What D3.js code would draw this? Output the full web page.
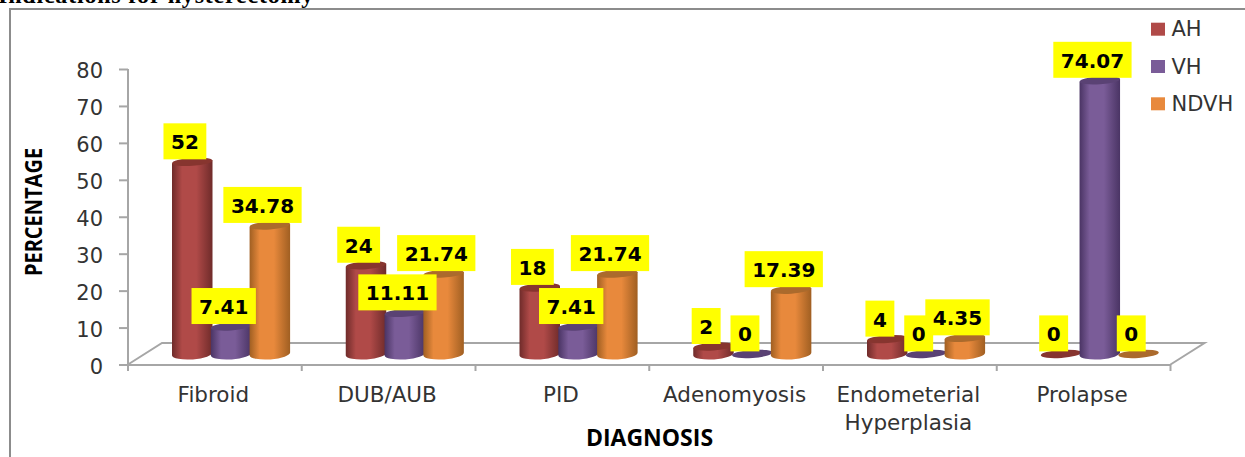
<!DOCTYPE html>
<html>
<head>
<meta charset="utf-8">
<script src="https://cdn.jsdelivr.net/npm/d3@7"></script>
<style>
html, body { margin: 0; padding: 0; background: #fff; overflow: hidden; }
</style>
</head>
<body>
<div id="chart"></div>
<script>
var categories = ["Fibroid", "DUB/AUB", "PID", "Adenomyosis", "Endometerial Hyperplasia", "Prolapse"];
var seriesNames = ["AH", "VH", "NDVH"];
var ahValues = [52, 24, 18, 2, 4, 0];
var vhValues = [7.41, 11.11, 7.41, 0, 0, 74.07];
var ndvhValues = [34.78, 21.74, 21.74, 17.39, 4.35, 0];
var yTicks = [0, 10, 20, 30, 40, 50, 60, 70, 80];

var cfg = {
    w: 1245,
    h: 457,
    left: 128,
    right: 1170.5,
    y0: 364.5,
    y80: 69,
    depthX: 34,
    depthY: 21.5,
    baseY: 355.4,
    barStep: 38.8,
    barW: 40.5,
    ry: 4,
    labelDx: -6.5,
    labelDy: -22,
    font: "'DejaVu Sans', sans-serif",
    titleFont: "'Open Sans', sans-serif"
};

var colors = [
    {main: "#b04a48", dark: "#6f2b2a", top: "#87352f"},
    {main: "#7a5c98", dark: "#4a3464", top: "#5a4274"},
    {main: "#e8893c", dark: "#a05f22", top: "#ab6a2c"}
];

var svg = d3.select("#chart").append("svg")
    .attr("width", cfg.w)
    .attr("height", cfg.h)
    .style("display", "block");

var defs = svg.append("defs");
colors.forEach(function(c, i){
    var grad = defs.append("linearGradient").attr("id", "cyl" + i);
    grad.append("stop").attr("offset", "0%").attr("stop-color", c.dark);
    grad.append("stop").attr("offset", "25%").attr("stop-color", c.main);
    grad.append("stop").attr("offset", "60%").attr("stop-color", c.main);
    grad.append("stop").attr("offset", "100%").attr("stop-color", c.dark);
});

// page text cut off by the crop, and the chart frame
svg.append("text")
    .attr("x", -2)
    .attr("y", 2.5)
    .style("font-family", "'Liberation Serif', serif")
    .style("font-weight", "bold")
    .style("font-size", "24px")
    .style("letter-spacing", "0.8px")
    .attr("fill", "#000")
    .text("Indications for hysterectomy");

svg.append("path")
    .attr("d", "M10,457V9H1245")
    .attr("fill", "none")
    .attr("stroke", "#8c8c8c")
    .attr("stroke-width", 2);

var x = d3.scaleBand().domain(categories).range([cfg.left, cfg.right]);
var y = d3.scaleLinear().domain([0, 80]).range([cfg.y0, cfg.y80]);
var h = d3.scaleLinear().domain([0, 80]).range([0, cfg.y0 - cfg.y80]);
var inner = d3.scaleBand().domain(seriesNames).range([44, 44 + cfg.barStep * 3]);

// floor
svg.append("path")
    .attr("d", "M" + cfg.left + "," + cfg.y0 +
        "L" + (cfg.left + cfg.depthX) + "," + (cfg.y0 - cfg.depthY) +
        "H" + (cfg.right + cfg.depthX) +
        "L" + cfg.right + "," + cfg.y0)
    .attr("fill", "none")
    .attr("stroke", "#a6a6a6")
    .attr("stroke-width", 2);

// axes
var yAxis = svg.append("g")
    .attr("transform", "translate(" + cfg.left + ",0)")
    .call(d3.axisLeft(y).tickValues(yTicks).tickSize(9).tickPadding(16).tickFormat(d3.format("d")));
var xAxis = svg.append("g")
    .attr("transform", "translate(0," + cfg.y0 + ")")
    .call(d3.axisBottom(x).tickValues([]).tickSizeOuter(0));

[yAxis, xAxis].forEach(function(a){
    a.selectAll("path, line").attr("stroke", "#a6a6a6").attr("stroke-width", 2);
});
yAxis.select(".domain").attr("d", "M0," + cfg.y80 + "V" + (cfg.y0 + 6));
yAxis.selectAll("text")
    .attr("dy", "0.42em")
    .style("font-family", cfg.font)
    .style("font-size", "21px")
    .attr("fill", "#333");

// ticks between the categories
svg.append("g").selectAll("line")
    .data(categories.concat([""]))
    .enter()
    .append("line")
    .attr("x1", function(d, i){return cfg.left + i * x.step();})
    .attr("x2", function(d, i){return cfg.left + i * x.step();})
    .attr("y1", cfg.y0)
    .attr("y2", cfg.y0 + 6.5)
    .attr("stroke", "#a6a6a6")
    .attr("stroke-width", 2);

// category labels, wrapped on the space only for the long one
var catLabels = svg.append("g").selectAll("text")
    .data(categories)
    .enter()
    .append("text")
    .attr("text-anchor", "middle")
    .attr("y", 401.5)
    .style("font-family", cfg.font)
    .style("font-size", "21.5px")
    .attr("fill", "#333");
catLabels.each(function(d){
    var self = d3.select(this);
    var cx = x(d) + x.bandwidth() / 2 - 1.5;
    var words = d === "Endometerial Hyperplasia" ? d.split(" ") : [d];
    words.forEach(function(w, i){
        self.append("tspan")
            .attr("x", cx)
            .attr("dy", i ? 28 : 0)
            .text(w);
    });
});

// axis titles
svg.append("text")
    .attr("x", 649.5)
    .attr("y", 446)
    .attr("text-anchor", "middle")
    .style("font-family", cfg.titleFont)
    .style("font-weight", "bold")
    .style("font-size", "23px")
    .attr("fill", "#000")
    .text("DIAGNOSIS");
svg.append("text")
    .attr("transform", "translate(42,212) rotate(-90) scale(1,1.2)")
    .attr("text-anchor", "middle")
    .style("font-family", cfg.titleFont)
    .style("font-weight", "bold")
    .style("font-size", "20px")
    .attr("fill", "#000")
    .text("PERCENTAGE");

// cylinders
var allValues = [ahValues, vhValues, ndvhValues];
var rows = [];
allValues.forEach(function(vals, s){
    vals.forEach(function(v, c){
        rows.push({s: s, c: c, value: v});
    });
});
function barX(d){ return x(categories[d.c]) + inner(seriesNames[d.s]); }

var order = rows.slice().sort(function(a, b){ return a.c - b.c || a.s - b.s; });
var bars = svg.append("g").selectAll("g")
    .data(order)
    .enter()
    .append("g")
    .attr("transform", function(d){return "translate(" + barX(d) + "," + cfg.baseY + ")";});

bars.filter(function(d){return d.value > 0;})
    .append("path")
    .attr("fill", function(d){return "url(#cyl" + d.s + ")";})
    .attr("d", function(d){
        var w = cfg.barW, t = h(d.value), r = cfg.ry + 1.5;
        return "M0," + (-t) +
            "V0" +
            "A" + (w / 2) + "," + r + " -4 0 0 " + w + ",-3" +
            "V" + (-t - 3) +
            "Z";
    });

bars.append("ellipse")
    .attr("cx", cfg.barW / 2)
    .attr("cy", function(d){return -h(d.value) - 1.5;})
    .attr("rx", cfg.barW / 2)
    .attr("ry", cfg.ry)
    .attr("transform", function(d){
        return "rotate(-4 " + (cfg.barW / 2) + " " + (-h(d.value) - 1.5) + ")";
    })
    .attr("fill", function(d){return colors[d.s].top;});

// value labels, always the same step up and left of the bar top
var labels = svg.append("g").selectAll("g")
    .data(order)
    .enter()
    .append("g")
    .attr("transform", function(d){
        var cx = barX(d) + inner.bandwidth() / 2 + cfg.labelDx;
        var cy = cfg.baseY - h(d.value) + cfg.labelDy;
        return "translate(" + cx + "," + cy + ")";
    });

labels.each(function(d){
    var g = d3.select(this);
    var rect = g.append("rect").attr("fill", "#ffff00");
    var t = g.append("text")
        .attr("text-anchor", "middle")
        .attr("y", 8)
        .style("font-family", cfg.font)
        .style("font-weight", "bold")
        .style("font-size", "20px")
        .attr("fill", "#000")
        .text(d.value);
    var tw = t.node().getComputedTextLength() + 15;
    rect.attr("x", -tw / 2).attr("y", -18).attr("width", tw).attr("height", 36);
});

// legend
var legend = svg.append("g").selectAll("g")
    .data(seriesNames)
    .enter()
    .append("g")
    .attr("transform", function(d, i){return "translate(1151," + (22.7 + i * 37.3) + ")";});
legend.append("rect")
    .attr("width", 14)
    .attr("height", 13)
    .attr("fill", function(d, i){return colors[i].main;});
legend.append("text")
    .attr("x", 20.5)
    .attr("y", 13.5)
    .style("font-family", cfg.font)
    .style("font-size", "21px")
    .attr("fill", "#333")
    .text(function(d){return d;});
</script>
</body>
</html>
